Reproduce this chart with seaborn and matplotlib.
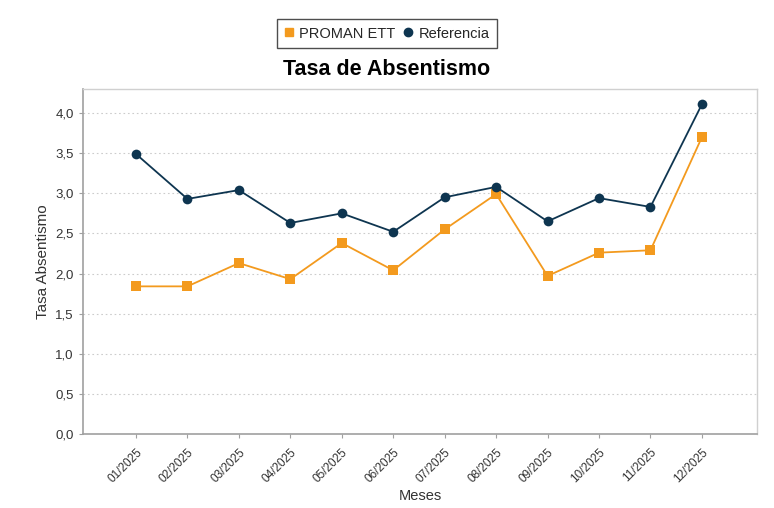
import matplotlib
matplotlib.use("Agg")
import matplotlib.pyplot as plt
import seaborn as sns
import pandas as pd
from matplotlib.ticker import FuncFormatter, MultipleLocator
from matplotlib.lines import Line2D

months = ["01/2025", "02/2025", "03/2025", "04/2025", "05/2025", "06/2025",
          "07/2025", "08/2025", "09/2025", "10/2025", "11/2025", "12/2025"]
proman = [1.84, 1.84, 2.13, 1.93, 2.38, 2.04, 2.55, 2.99, 1.97, 2.26, 2.29, 3.70]
referencia = [3.49, 2.93, 3.04, 2.63, 2.75, 2.52, 2.95, 3.08, 2.65, 2.94, 2.83, 4.11]

sns.set_theme(style="white")
plt.rcParams["font.family"] = ["Liberation Sans", "DejaVu Sans"]

orange = "#F39A1E"
navy = "#0E3550"

df = pd.DataFrame({
    "Mes": months * 2,
    "Valor": proman + referencia,
    "Serie": ["PROMAN ETT"] * len(months) + ["Referencia"] * len(months),
})

fig = plt.figure(figsize=(7.74, 5.08), dpi=100)
ax = fig.add_axes([0.1072, 0.1457, 0.8708, 0.6791])

sns.lineplot(data=df, x="Mes", y="Valor", hue="Serie", style="Serie",
             palette={"PROMAN ETT": orange, "Referencia": navy},
             markers={"PROMAN ETT": "s", "Referencia": "o"},
             dashes=False, markersize=7, linewidth=1.3,
             markeredgewidth=0, ax=ax, legend=False, sort=False)

ax.set_xlim(-1.03, 12.07)
ax.set_ylim(0, 4.3)
ax.yaxis.set_major_locator(MultipleLocator(0.5))
ax.yaxis.set_major_formatter(FuncFormatter(lambda v, p: f"{v:.1f}".replace(".", ",")))
ax.yaxis.grid(True, linestyle=(0, (1.5, 2.5)), color="#cccccc", linewidth=0.8)
ax.xaxis.grid(False)
ax.set_axisbelow(True)

for s in ["top", "right"]:
    ax.spines[s].set_color("#d0d0d0")
    ax.spines[s].set_linewidth(1.0)
for s in ["left", "bottom"]:
    ax.spines[s].set_color("#a0a0a0")
    ax.spines[s].set_linewidth(1.2)

ax.tick_params(axis="both", which="major", direction="out", length=3, width=0.8,
               color="#a0a0a0", labelsize=9.5, labelcolor="#333333",
               left=True, bottom=True)
ax.tick_params(axis="x", pad=6)
plt.setp(ax.get_xticklabels(), rotation=45, ha="right", rotation_mode="anchor", fontsize=8.5)

ax.set_xlabel("Meses", fontsize=10.5, color="#333333", labelpad=3)
ax.set_ylabel("Tasa Absentismo", fontsize=11, color="#333333", labelpad=4)

fig.text(0.5, 0.864, "Tasa de Absentismo", ha="center", va="center",
         fontsize=15.5, fontweight="bold", color="#000000")

handles = [
    Line2D([], [], linestyle="none", marker="s", markersize=6, color=orange),
    Line2D([], [], linestyle="none", marker="o", markersize=6, color=navy),
]
leg = fig.legend(handles, ["PROMAN ETT", "Referencia"], loc="upper center",
                 bbox_to_anchor=(0.5, 0.962), ncol=2, frameon=True, fancybox=False,
                 fontsize=10.5, handlelength=0.6, handletextpad=0.4, columnspacing=0.6,
                 borderpad=0.5, borderaxespad=0)
leg.get_frame().set_edgecolor("#222222")
leg.get_frame().set_linewidth(1.0)

fig.savefig("out.png", dpi=100)
